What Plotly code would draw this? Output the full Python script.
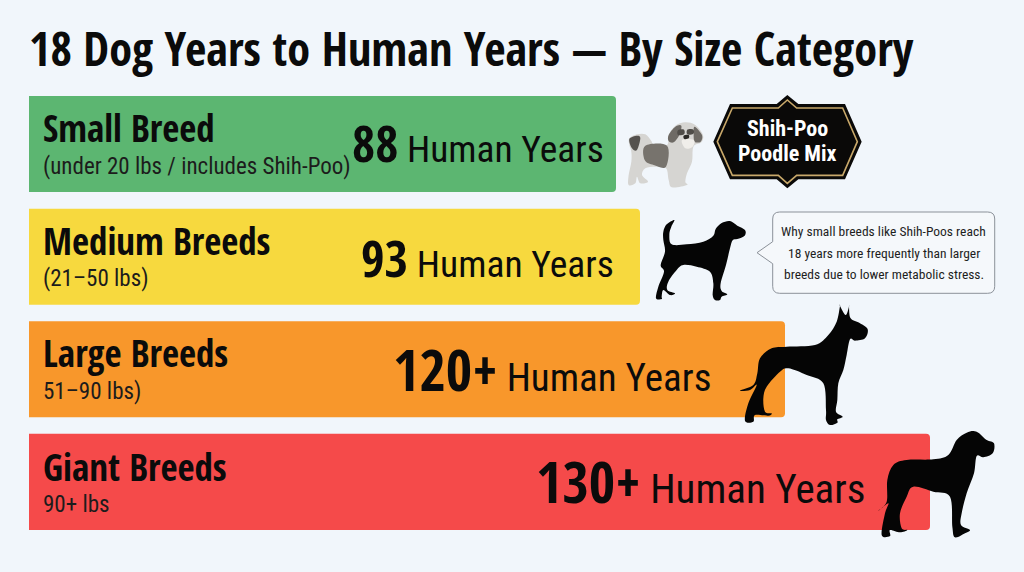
import plotly.graph_objects as go

W, H = 1024, 572
HEAVY = "Open Sans Condensed"
BODY = "Roboto Condensed"
INK = "#0b0b0b"
BG = "#F1F6FB"

title_text = "18 Dog Years to Human Years — By Size Category"
categories = ["Small Breed", "Medium Breeds", "Large Breeds", "Giant Breeds"]
sublabels = ["(under 20 lbs / includes Shih-Poo)", "(21–50 lbs)", "51–90 lbs)", "90+ lbs"]
human_years = ["88", "93", "120+", "130+"]
# drawn bar lengths (the source bars are not strictly proportional)
bar_lengths = [587, 611, 756, 901]
bar_colors = ["#5CB671", "#F7D93E", "#F8972B", "#F54A4A"]
badge_lines = ["Shih-Poo", "Poodle Mix"]
note_lines = ["Why small breeds like Shih-Poos reach",
              "18 years more frequently than larger",
              "breeds due to lower metabolic stress."]

medium_dog = [(73,15),(64,35),(58,58),(65,88),(110,88),(160,80),(190,62),(197,42),(215,24),(240,18),(262,32),(285,45),(284,62),(262,72),(248,76),(240,100),(228,150),(212,205),(215,228),(232,238),(215,245),(210,255),(195,255),(188,240),(190,205),(180,170),(140,155),(100,150),(80,165),(55,200),(52,225),(75,235),(60,240),(40,225),(35,245),(35,252),(18,250),(25,215),(42,170),(32,150),(45,110),(40,75),(40,50),(50,28)]
large_dog = [(120,272),(160,255),(172,220),(180,175),(215,145),(260,140),(345,135),(385,105),(410,65),(420,18),(420,18),(437,45),(447,20),(447,20),(452,55),(480,70),(503,88),(495,115),(465,122),(450,118),(440,165),(430,210),(415,250),(412,300),(408,335),(428,350),(412,358),(412,368),(390,375),(378,360),(378,330),(370,250),(320,225),(265,205),(240,215),(200,260),(190,295),(195,335),(215,340),(205,347),(165,345),(160,365),(135,362),(145,310),(170,255),(150,270)]
giant_dog = [(535,632),(560,605),(562,540),(580,495),(620,480),(700,478),(745,465),(770,420),(800,398),(830,395),(860,420),(882,430),(878,460),(850,472),(830,468),(822,520),(800,580),(785,640),(783,675),(810,690),(795,700),(765,712),(757,680),(750,590),(700,575),(640,560),(620,590),(600,640),(605,685),(622,690),(600,697),(570,690),(570,708),(545,705),(555,640),(565,610)]
puppy_body = [(22,70),(45,58),(70,58),(88,78),(95,88),(135,90),(140,60),(160,32),(190,22),(220,30),(243,60),(238,82),(218,90),(212,105),(210,140),(195,175),(190,200),(195,210),(150,217),(140,195),(132,160),(100,155),(70,160),(60,180),(78,200),(55,205),(45,185),(40,205),(20,210),(20,180),(28,140),(28,110),(22,90)]
puppy_back = [(70,92),(135,92),(132,155),(95,150),(68,135)]
puppy_tail = [(22,72),(45,62),(55,70),(45,105),(30,100)]
puppy_ear_l = [(140,60),(160,35),(178,32),(172,60),(155,82),(140,78)]
puppy_ear_r = [(218,35),(240,60),(236,80),(218,80),(215,55)]
puppy_eye_l = [(168,46),(186,44),(186,58),(168,60)]
puppy_eye_r = [(196,44),(214,44),(214,56),(196,58)]
puppy_muzzle = [(180,75),(215,75),(212,95),(190,100)]
puppy_nose = [(185,62),(200,60),(200,70),(187,72)]
badge_outer = [(340,185),(390,72),(530,72),(562,45),(595,72),(735,72),(785,185),(735,298),(595,298),(562,325),(530,298),(390,298)]
badge_inner = [(352,185),(397,84),(535,84),(562,60),(590,84),(728,84),(772,185),(728,286),(590,286),(562,310),(535,286),(397,286)]


def at(ox, oy):
    return lambda p: (ox + p[0] / 3, oy + p[1] / 3)


big = at(700, 300)
mid_crop = at(650, 215)
pup = at(622, 115)
top = at(600, 80)


def fmt(p):
    return f"{p[0] / W:.5f},{1 - p[1] / H:.5f}"


def poly(pts):
    return "M " + " L ".join(fmt(p) for p in pts) + " Z"


def smooth(pts, k=6.0):
    n = len(pts)
    d = "M " + fmt(pts[0])
    for i in range(n):
        p0, p1, p2, p3 = pts[i - 1], pts[i], pts[(i + 1) % n], pts[(i + 2) % n]
        c1 = (p1[0] + (p2[0] - p0[0]) / k, p1[1] + (p2[1] - p0[1]) / k)
        c2 = (p2[0] - (p3[0] - p1[0]) / k, p2[1] - (p3[1] - p1[1]) / k)
        d += " C " + fmt(c1) + " " + fmt(c2) + " " + fmt(p2)
    return d + " Z"


def shp(path, fill, line=None, lw=0):
    return dict(type="path", path=path, xref="paper", yref="paper", fillcolor=fill,
                line=dict(color=line or fill, width=lw), layer="above")


def note_box(x0, y0, x1, y1, r, tip):
    c = lambda x, y: fmt((x, y))
    return ("M " + c(x0 + r, y0) + " L " + c(x1 - r, y0) + " Q " + c(x1, y0) + " " + c(x1, y0 + r)
            + " L " + c(x1, y1 - r) + " Q " + c(x1, y1) + " " + c(x1 - r, y1)
            + " L " + c(x0 + r, y1) + " Q " + c(x0, y1) + " " + c(x0, y1 - r)
            + " L " + c(x0, tip[1] + 11) + " L " + c(*tip) + " L " + c(x0, tip[1] - 11)
            + " L " + c(x0, y0 + r) + " Q " + c(x0, y0) + " " + c(x0 + r, y0) + " Z")


def text(x, y, s, size, family=BODY, anchor="left", color=INK, bold=False):
    return dict(x=x / W, y=1 - y / H, xref="paper", yref="paper", text=f"<b>{s}</b>" if bold else s,
                showarrow=False, xanchor=anchor, yanchor="middle", xshift=0, borderpad=0,
                font=dict(family=family, size=size, color=color))


fig = go.Figure(go.Bar(y=categories, x=bar_lengths, orientation="h", width=0.853,
                       marker=dict(color=bar_colors, line=dict(width=0)), hoverinfo="skip"))

shapes = [
    shp(smooth([pup(p) for p in puppy_body]), "#D6D5D2"),
    shp(smooth([pup(p) for p in puppy_back]), "#77736D"),
    shp(smooth([pup(p) for p in puppy_tail]), "#55524E"),
    shp(smooth([pup(p) for p in puppy_ear_l]), "#6E6A65"),
    shp(smooth([pup(p) for p in puppy_ear_r]), "#6E6A65"),
    shp(smooth([pup(p) for p in puppy_eye_l]), "#4F4C48"),
    shp(smooth([pup(p) for p in puppy_eye_r]), "#4F4C48"),
    shp(smooth([pup(p) for p in puppy_muzzle]), "#F0EEEA"),
    shp(smooth([pup(p) for p in puppy_nose]), "#2B2926"),
    shp(poly([top(p) for p in badge_outer]), "#0A0908"),
    shp(poly([top(p) for p in badge_inner]), "rgba(0,0,0,0)", "#C8A86A", 1.6),
    shp(smooth([mid_crop(p) for p in medium_dog]), "#050505"),
    shp(smooth([big(p) for p in large_dog]), "#050505"),
    shp(smooth([big(p) for p in giant_dog]), "#050505"),
    shp(note_box(772.7, 212, 994.7, 293.3, 7, (757, 252.7)), "#F5F8FB", "#8B9199", 1),
]

anns = [text(28, 48, title_text, 46.3, family=HEAVY, bold=True)]
name_y = [128, 240, 353, 466]
sub_y = [166, 278, 391, 504]
label_y = [143, 257, 369, 481]
label_right = [605, 615, 712, 866]
num_size = [50, 51, 57, 57]
word_size = [37.5, 37.5, 39, 41]
for i, cat in enumerate(categories):
    anns.append(text(42, name_y[i], cat, 37, family=HEAVY, bold=True))
    anns.append(text(42, sub_y[i], sublabels[i], 23, color="#1c1c1c"))
    s = (f'<span style="font-family:{HEAVY};font-size:{num_size[i]}px;font-weight:bold">{human_years[i]}</span>'
         f' <span style="font-size:{word_size[i]}px">Human Years</span>')
    anns.append(text(label_right[i], label_y[i], s, word_size[i], anchor="right"))
for line, y in zip(badge_lines, [128.5, 154]):
    anns.append(text(787.5, y, line, 22, anchor="center", color="#ffffff", bold=True))
for line, y in zip(note_lines, [231, 252.5, 274]):
    anns.append(text(883.5, y, line, 13.5, anchor="center", color="#1e1e1e"))

fig.update_layout(
    width=W, height=H, autosize=False,
    margin=dict(l=0, r=0, t=0, b=0),
    paper_bgcolor=BG, plot_bgcolor=BG,
    barcornerradius=4, showlegend=False,
    xaxis=dict(range=[-29, 995], visible=False, fixedrange=True),
    yaxis=dict(type="category", categoryorder="array", categoryarray=categories,
               range=[3.80, -1.279], visible=False, fixedrange=True),
    shapes=shapes, annotations=anns,
)
fig.write_html("out.html", config=dict(displayModeBar=False),
               post_script="document.body.style.margin='0';document.body.style.background='#F1F6FB';")
